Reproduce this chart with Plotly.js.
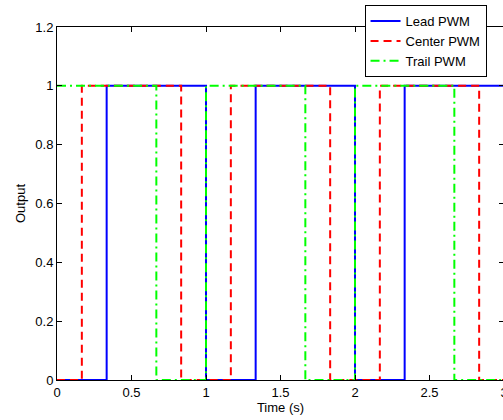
<!DOCTYPE html>
<html>
<head>
<meta charset="utf-8">
<script src="https://cdn.plot.ly/plotly-3.0.1.min.js"></script>
<style>
  html, body { margin: 0; padding: 0; overflow: hidden; background: #fff; }
  #chart { width: 505px; height: 420px; }
</style>
</head>
<body>
<div id="chart"></div>
<script>
// Switching edges (s) and output levels for each PWM scheme
const leadTimes   = [0, 0.3333, 1.0, 1.3333, 2.0, 2.3333, 3.0];
const leadLevels  = [0, 1, 0, 1, 0, 1, 1];

const centerTimes  = [0, 0.1667, 0.8333, 1.1667, 1.8333, 2.1667, 2.8333, 3.0];
const centerLevels = [0, 1, 0, 1, 0, 1, 0, 0];

const trailTimes  = [0, 0.6667, 1.0, 1.6667, 2.0, 2.6667, 3.0];
const trailLevels = [1, 0, 1, 0, 1, 0, 0];

const xTicks = [0, 0.5, 1, 1.5, 2, 2.5, 3];
const xTickText = ['0', '0.5', '1', '1.5', '2', '2.5', '3'];
const yTicks = [0, 0.2, 0.4, 0.6, 0.8, 1, 1.2];
const yTickText = ['0', '0.2', '0.4', '0.6', '0.8', '1', '1.2'];

const FONT = 'Liberation Sans, Arial, sans-serif';

const traces = [
  { x: leadTimes, y: leadLevels, name: 'Lead PWM', mode: 'lines',
    line: { shape: 'hv', color: '#0000ff', width: 2, dash: 'solid' } },
  { x: centerTimes, y: centerLevels, name: 'Center PWM', mode: 'lines',
    line: { shape: 'hv', color: '#ff0000', width: 2, dash: '8px,5px' } },
  { x: trailTimes, y: trailLevels, name: 'Trail PWM', mode: 'lines',
    line: { shape: 'hv', color: '#00ff00', width: 2, dash: '9px,4px,2px,4px' } }
];

const axisCommon = {
  showline: true, linecolor: '#000', linewidth: 1, mirror: 'ticks',
  ticks: 'inside', ticklen: 5, tickcolor: '#000', tickwidth: 1,
  showgrid: false, zeroline: false, ticklabeloverflow: 'allow',
  tickfont: { family: FONT, size: 13, color: '#000' }
};

const layout = {
  width: 505, height: 420,
  margin: { l: 57, r: 1, t: 27, b: 40 },
  paper_bgcolor: '#fff', plot_bgcolor: '#fff',
  font: { family: FONT, color: '#000' },
  showlegend: true,
  xaxis: Object.assign({}, axisCommon, {
    range: [0, 3], tickmode: 'array', tickvals: xTicks, ticktext: xTickText,
    title: { text: 'Time (s)', font: { size: 13 }, standoff: 4 }
  }),
  yaxis: Object.assign({}, axisCommon, {
    range: [0, 1.2], tickmode: 'array', tickvals: yTicks, ticktext: yTickText,
    title: { text: 'Output', font: { size: 13 }, standoff: 6 }
  }),
  legend: {
    x: 0.688, y: 1.062, xanchor: 'left', yanchor: 'top',
    bgcolor: '#fff', bordercolor: '#000', borderwidth: 1,
    font: { family: FONT, size: 13, color: '#000' },
    tracegroupgap: 0
  }
};

Plotly.newPlot('chart', traces, layout, { staticPlot: true, displayModeBar: false });
</script>
</body>
</html>
